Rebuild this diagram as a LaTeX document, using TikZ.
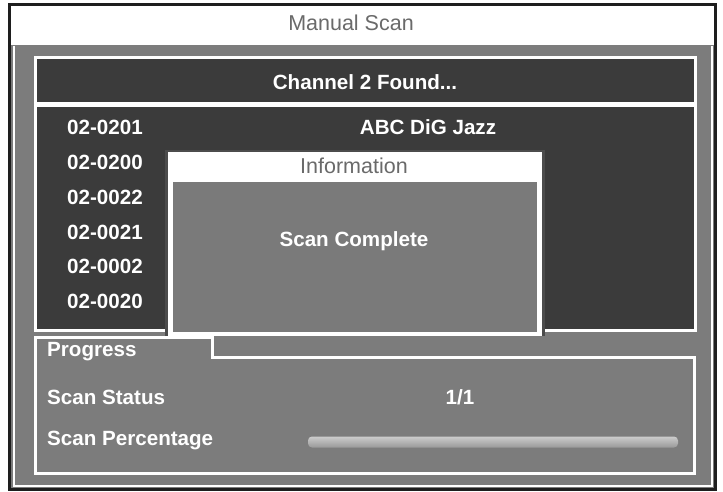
\documentclass[tikz,border=0pt]{standalone}
\usepackage{fontspec}
\setmainfont{Liberation Sans}
\definecolor{frame}{HTML}{1E1E1E}
\definecolor{panel}{HTML}{7C7C7C}
\definecolor{darkfill}{HTML}{3B3B3B}
\definecolor{dlg}{HTML}{7A7A7A}
\definecolor{greytext}{HTML}{6A6A6A}
\begin{document}
\begin{tikzpicture}[x=1pt,y=-1pt,
  wtxt/.style={inner sep=0pt,text=white,font=\fontsize{20.6}{20.6}\selectfont\bfseries},
  gtxt/.style={inner sep=0pt,text=greytext,font=\fontsize{21.5}{21.5}\selectfont},
  boxline/.style={draw=white,line width=3pt},
]
\useasboundingbox (0,0) rectangle (723,492);
\fill[white] (0,0) rectangle (723,492);
% outer frame
\fill[panel] (11,45) rectangle (714,488);
\draw[frame,line width=3pt] (9.5,4.5) rectangle (715.5,489.5);
\draw[white,line width=2pt] (14,46) -- (14,486) -- (712,486) -- (712,46);
\node[gtxt] (title) at (351,23) {Manual Scan};
% channel bar
\node[boxline,fill=darkfill,minimum width=660pt,minimum height=46pt,inner sep=0pt] (chan) at (365,81) {};
\node[wtxt] (chantxt) at (365,82) {Channel 2 Found...};
% list area
\node[boxline,fill=darkfill,minimum width=660pt,minimum height=224pt,inner sep=0pt] (list) at (365,218) {};
\node[wtxt,anchor=west] (r1) at (67,127) {02-0201};
\node[wtxt,anchor=west] (r2) at (67,162) {02-0200};
\node[wtxt,anchor=west] (r3) at (67,197) {02-0022};
\node[wtxt,anchor=west] (r4) at (67,232) {02-0021};
\node[wtxt,anchor=west] (r5) at (67,266) {02-0002};
\node[wtxt,anchor=west] (r6) at (67,301) {02-0020};
\node[wtxt] (jazz) at (428,127) {ABC DiG Jazz};
% progress box
\draw[boxline] (35,337) -- (212,337) -- (212,357) -- (694,357) -- (694,473) -- (35,473) -- cycle;
% dialog
\fill[black!70] (165,150) rectangle (545,336);
\fill[white] (168,152) rectangle (542,336);
\fill[dlg] (173,182) rectangle (537,332);
\node[gtxt] (info) at (354,166) {Information};
\node[wtxt] (done) at (354,241) {Scan Complete};
% progress contents
\node[wtxt,anchor=west] (prog) at (47,352) {Progress};
\node[wtxt,anchor=west] (status) at (47,397) {Scan Status};
\node[wtxt] (val) at (460,397) {1/1};
\node[wtxt,anchor=west] (pct) at (47,440) {Scan Percentage};
\shade[top color=black!20,bottom color=black!40,rounded corners=4pt] (308,436.5) rectangle (678,447.5);
\end{tikzpicture}
\end{document}
